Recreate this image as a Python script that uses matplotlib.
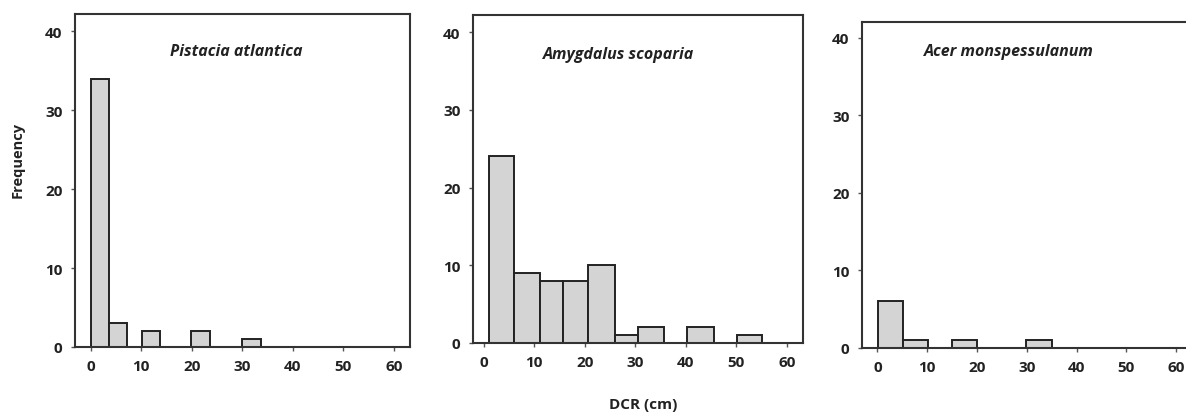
import matplotlib
matplotlib.use("Agg")
import matplotlib.pyplot as plt

plt.rcParams['font.family'] = ['Open Sans', 'DejaVu Sans']

# species names
species = ["Pistacia atlantica", "Amygdalus scoparia", "Acer monspessulanum"]

# bin left edges and widths (cm), plus counts
pist_left = [0, 3.6, 10.1, 19.9, 30.0]
pist_width = [3.6, 3.5, 3.6, 3.8, 3.8]
pist_freq = [34, 3, 2, 2, 1]

amyg_left = [1.0, 6.1, 11.1, 15.8, 20.6, 25.9, 30.5, 40.3, 50.2]
amyg_width = [5.1, 5.0, 4.7, 4.8, 5.3, 4.6, 5.1, 5.2, 4.9]
amyg_freq = [24, 9, 8, 8, 10, 1, 2, 2, 1]

acer_left = [0.1, 5.1, 15.0, 29.9]
acer_width = [5.0, 5.0, 5.0, 5.1]
acer_freq = [6, 1, 1, 1]

xticks = [0, 10, 20, 30, 40, 50, 60]
yticks = [0, 10, 20, 30, 40]

W, H = 1186, 414
fig = plt.figure(figsize=(W / 100, H / 100), dpi=100)


def px_axes(x0, x1, ytop, ybot):
    return fig.add_axes([x0 / W, 1 - ybot / H, (x1 - x0) / W, (ybot - ytop) / H])


panels = [
    (px_axes(75, 410, 15, 348), pist_left, pist_width, pist_freq, (-3.1, 63.2), 42.2, (28.8, 37.5)),
    (px_axes(473, 803, 16, 344), amyg_left, amyg_width, amyg_freq, (-2.1, 63.2), 42.2, (26.8, 37.2)),
    (px_axes(862, 1192, 23, 349), acer_left, acer_width, acer_freq, (-3.1, 63.2), 42.0, (26.4, 38.3)),
]

for (ax, left, width, freq, xl, ytop, tpos), name in zip(panels, species):
    ax.bar(left, freq, width=width, align='edge', color='#d4d4d4',
           edgecolor='#222222', linewidth=1.4, zorder=2)
    ax.set_xlim(*xl)
    ax.set_ylim(0, ytop)
    ax.set_xticks(xticks)
    ax.set_yticks(yticks)
    ax.tick_params(direction='out', length=3, width=1, color='#555555',
                   labelsize=11, pad=6)
    for lab in ax.get_xticklabels() + ax.get_yticklabels():
        lab.set_fontweight('bold')
        lab.set_color('#222222')
    for s in ax.spines.values():
        s.set_linewidth(1.5)
        s.set_color('#333333')
    ax.text(tpos[0], tpos[1], name, ha='center', va='center',
            fontsize=11.5, fontstyle='italic', fontweight='bold', color='#222222')

fig.text(18 / W, 1 - 160 / H, "Frequency", rotation=90, ha='center', va='center',
         fontsize=10.5, fontweight='bold', color='#222222')
fig.text(643 / W, 1 - 405 / H, "DCR (cm)", ha='center', va='center',
         fontsize=11, fontweight='bold', color='#222222')

fig.savefig("out.png", dpi=100)
